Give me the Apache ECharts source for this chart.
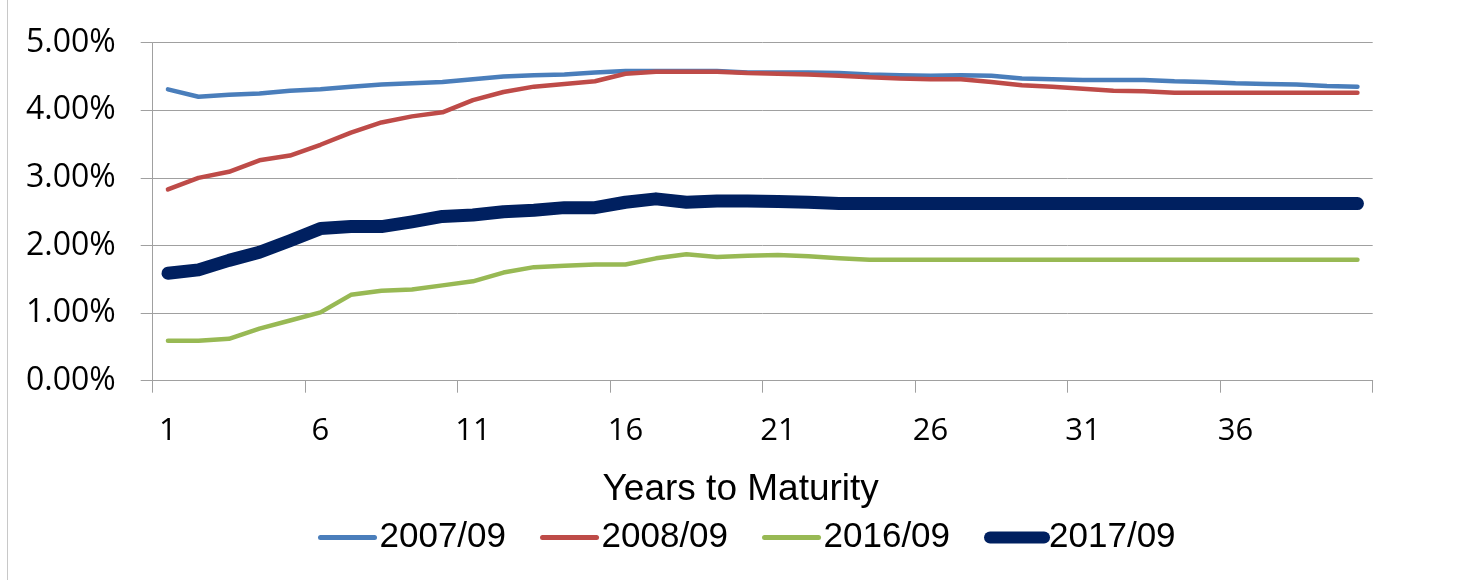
<!DOCTYPE html>
<html>
<head>
<meta charset="utf-8">
<script src="https://cdn.jsdelivr.net/npm/echarts@6/dist/echarts.min.js"></script>
<style>
  html, body { margin: 0; padding: 0; background: #ffffff; }
  #chart { width: 1470px; height: 580px; }
</style>
</head>
<body>
<div id="chart"></div>
<script>
// Years to maturity (category axis)
const maturities = ['1','2','3','4','5','6','7','8','9','10',
  '11','12','13','14','15','16','17','18','19','20',
  '21','22','23','24','25','26','27','28','29','30',
  '31','32','33','34','35','36','37','38','39','40'];

// Yield curves, in percent
const curve2007 = [4.31,4.20,4.23,4.25,4.29,4.31,4.35,4.38,4.40,4.42,
  4.46,4.50,4.52,4.53,4.56,4.58,4.58,4.58,4.58,4.56,
  4.56,4.56,4.55,4.53,4.52,4.51,4.52,4.51,4.47,4.46,
  4.45,4.45,4.45,4.43,4.42,4.40,4.39,4.38,4.36,4.35];
const curve2008 = [2.83,3.00,3.09,3.26,3.33,3.49,3.67,3.82,3.91,3.97,
  4.15,4.27,4.35,4.39,4.43,4.54,4.57,4.57,4.57,4.55,
  4.54,4.53,4.51,4.49,4.47,4.46,4.46,4.42,4.37,4.35,
  4.32,4.29,4.28,4.26,4.26,4.26,4.26,4.26,4.26,4.26];
const curve2016 = [0.59,0.59,0.62,0.77,0.89,1.01,1.27,1.33,1.35,1.41,
  1.47,1.60,1.68,1.70,1.72,1.72,1.81,1.87,1.83,1.85,
  1.86,1.84,1.81,1.79,1.79,1.79,1.79,1.79,1.79,1.79,
  1.79,1.79,1.79,1.79,1.79,1.79,1.79,1.79,1.79,1.79];
const curve2017 = [1.59,1.64,1.78,1.90,2.07,2.25,2.28,2.28,2.35,2.43,
  2.45,2.50,2.52,2.56,2.56,2.64,2.69,2.64,2.66,2.66,
  2.65,2.64,2.62,2.62,2.62,2.62,2.62,2.62,2.62,2.62,
  2.62,2.62,2.62,2.62,2.62,2.62,2.62,2.62,2.62,2.62];

const seriesNames = ['2007/09', '2008/09', '2016/09', '2017/09'];
const seriesData = [curve2007, curve2008, curve2016, curve2017];
const seriesColors = ['#4A7EBB', '#BE4B48', '#98B954', '#002060'];
const seriesWidths = [4.5, 4.5, 4.5, 13];
const legendWidths = [5, 5, 5, 12];

const gridGray = '#A0A0A0';
const labelFont = 'Open Sans';
const textFont = 'Liberation Sans';

const chart = echarts.init(document.getElementById('chart'), null, { renderer: 'canvas' });

chart.setOption({
  animation: false,
  backgroundColor: '#ffffff',
  grid: { left: 152.7, right: 97.3, top: 42.7, bottom: 199.3 },
  legend: {
    left: 318,
    top: 520,
    padding: 0,
    itemWidth: 54,
    itemHeight: 14,
    itemGap: 34,
    textStyle: { fontFamily: textFont, fontSize: 35, color: '#000000' },
    // plain line keys: hide the default marker, keep a thick rounded stroke
    data: seriesNames.map((name, i) => ({
      name: name,
      itemStyle: { opacity: 0 },
      lineStyle: { width: legendWidths[i], color: seriesColors[i], cap: 'round' }
    }))
  },
  xAxis: {
    type: 'category',
    data: maturities,
    boundaryGap: true,
    axisLine: { show: true, lineStyle: { color: gridGray, width: 1 } },
    axisTick: { show: true, interval: 4, length: 12, lineStyle: { color: gridGray, width: 1 } },
    axisLabel: { interval: 4, margin: 35, fontFamily: labelFont, fontSize: 31, color: '#000000' },
    splitLine: { show: false },
    name: 'Years to Maturity',
    nameLocation: 'middle',
    nameGap: 91,
    nameTextStyle: { fontFamily: textFont, fontSize: 37, color: '#000000', padding: [0, 44, 0, 0] }
  },
  yAxis: {
    type: 'value',
    min: 0,
    max: 5,
    interval: 1,
    axisLine: { show: true, lineStyle: { color: gridGray, width: 1 } },
    axisTick: { show: true, length: 12, lineStyle: { color: gridGray, width: 1 } },
    axisLabel: {
      margin: 37,
      fontFamily: labelFont,
      fontSize: 32,
      color: '#000000',
      formatter: v => v.toFixed(2) + '%'
    },
    splitLine: { show: true, lineStyle: { color: gridGray, width: 1 } }
  },
  graphic: [{
    type: 'line',
    shape: { x1: 7.5, y1: 0, x2: 7.5, y2: 580 },
    style: { stroke: '#C8C8C8', lineWidth: 1 },
    silent: true
  }],
  series: seriesNames.map((name, i) => ({
    name: name,
    type: 'line',
    data: seriesData[i],
    symbol: 'none',
    smooth: false,
    color: seriesColors[i],
    lineStyle: { width: seriesWidths[i], color: seriesColors[i], cap: 'round', join: 'round' },
    emphasis: { disabled: true }
  }))
});
</script>
</body>
</html>
